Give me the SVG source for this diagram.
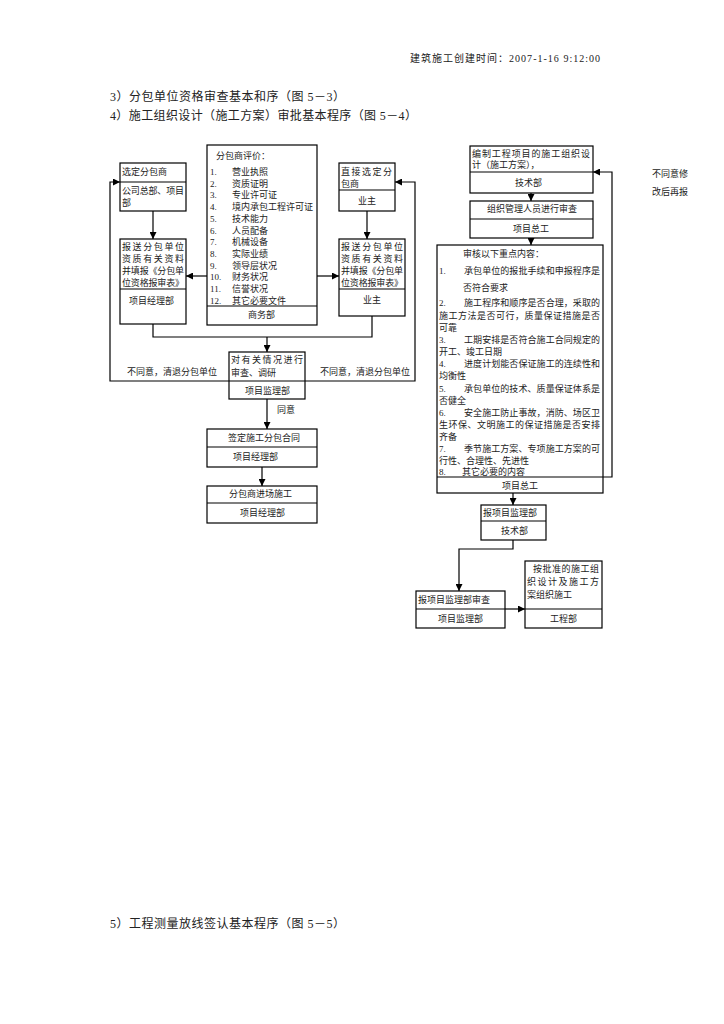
<svg xmlns="http://www.w3.org/2000/svg" width="724" height="1024" viewBox="0 0 724 1024">
<defs>
<marker id="ah" viewBox="0 0 10 10" refX="10" refY="5" markerWidth="7" markerHeight="7" orient="auto" markerUnits="userSpaceOnUse"><path d="M0,0 L10,5 L0,10 z" fill="#000"/></marker>
</defs>
<style>
text{font-family:"Liberation Serif","Noto Sans CJK SC",serif;font-size:9px;fill:#222}
.t{font-size:12px}
.h{font-size:10px}
.b{fill:#fff;stroke:#000;stroke-width:1.2}
.d{stroke:#000;stroke-width:1.2;fill:none}
.c{stroke:#000;stroke-width:1.2;fill:none}
.a{marker-end:url(#ah)}
</style>
<rect width="724" height="1024" fill="#fff"/>
<text class="h" x="410" y="62" textLength="190" lengthAdjust="spacing">建筑施工创建时间：2007-1-16 9:12:00</text>
<text class="t" x="110" y="101" textLength="235" lengthAdjust="spacing">3）分包单位资格审查基本和序（图 5－3）</text>
<text class="t" x="110" y="120" textLength="307" lengthAdjust="spacing">4）施工组织设计（施工方案）审批基本程序（图 5－4）</text>
<text class="t" x="110" y="928" textLength="235" lengthAdjust="spacing">5）工程测量放线签认基本程序（图 5－5）</text>

<g id="connectors">
<line class="c a" x1="153" y1="211" x2="153" y2="239"/>
<line class="c a" x1="367" y1="211" x2="367" y2="239"/>
<line class="c a" x1="207" y1="276" x2="186" y2="276"/>
<line class="c a" x1="317" y1="276" x2="339" y2="276"/>
<polyline class="c" points="153,324 153,337 372,337 372,316"/>
<line class="c a" x1="267" y1="337" x2="267" y2="352"/>
<polyline class="c a" points="229,381 110,381 110,182 120,182"/>
<polyline class="c a" points="305,381 415,381 415,182 395,182"/>
<line class="c a" x1="267" y1="399" x2="267" y2="429"/>
<line class="c a" x1="262" y1="467" x2="262" y2="486"/>
<line class="c a" x1="531" y1="193" x2="531" y2="201"/>
<line class="c a" x1="531" y1="238" x2="531" y2="245"/>
<polyline class="c a" points="603,477 612,477 612,172 593,172"/>
<line class="c a" x1="513" y1="493" x2="513" y2="505"/>
<polyline class="c a" points="513,540 513,549 459,549 459,591"/>
<line class="c a" x1="505" y1="609" x2="525" y2="609"/>
<text x="127" y="375">不同意，清退分包单位</text>
<text x="320" y="375">不同意，清退分包单位</text>
<text x="277" y="413">同意</text>
<text x="652" y="177">不同意修</text>
<text x="652" y="195">改后再报</text>
</g>

<g id="n_xuanding">
<rect class="b" x="120" y="163" width="66" height="48"/>
<line class="d" x1="120" y1="182" x2="186" y2="182"/>
<text x="122" y="175">选定分包商</text>
<text x="122" y="194" textLength="62" lengthAdjust="spacing">公司总部、项目</text>
<text x="122" y="206">部</text>
</g>

<g id="n_baosong_left">
<rect class="b" x="120" y="239" width="66" height="85"/>
<line class="d" x1="120" y1="289" x2="186" y2="289"/>
<text x="122" y="250" textLength="62" lengthAdjust="spacing">报送分包单位</text>
<text x="122" y="262" textLength="62" lengthAdjust="spacing">资质有关资料</text>
<text x="122" y="274" textLength="62" lengthAdjust="spacing">并填报《分包单</text>
<text x="122" y="286" textLength="62" lengthAdjust="spacing">位资格报审表》</text>
<text x="129" y="304">项目经理部</text>
</g>

<g id="n_pingjia">
<rect class="b" x="207" y="145" width="110" height="180"/>
<line class="d" x1="207" y1="306" x2="317" y2="306"/>
<text x="216" y="159">分包商评价：</text>
<text x="210" y="175">1.</text><text x="232" y="175">营业执照</text>
<text x="210" y="186.7">2.</text><text x="232" y="186.7">资质证明</text>
<text x="210" y="198.4">3.</text><text x="232" y="198.4">专业许可证</text>
<text x="210" y="210.1">4.</text><text x="232" y="210.1">境内承包工程许可证</text>
<text x="210" y="221.8">5.</text><text x="232" y="221.8">技术能力</text>
<text x="210" y="233.5">6.</text><text x="232" y="233.5">人员配备</text>
<text x="210" y="245.2">7.</text><text x="232" y="245.2">机械设备</text>
<text x="210" y="256.9">8.</text><text x="232" y="256.9">实际业绩</text>
<text x="210" y="268.6">9.</text><text x="232" y="268.6">领导层状况</text>
<text x="210" y="280.3">10.</text><text x="232" y="280.3">财务状况</text>
<text x="210" y="292">11.</text><text x="232" y="292">信誉状况</text>
<text x="210" y="303.7">12.</text><text x="232" y="303.7">其它必要文件</text>
<text x="248" y="318">商务部</text>
</g>

<g id="n_zhijie">
<rect class="b" x="339" y="163" width="56" height="48"/>
<line class="d" x1="339" y1="190" x2="395" y2="190"/>
<text x="341" y="175" textLength="51" lengthAdjust="spacing">直接选定分</text>
<text x="341" y="187">包商</text>
<text x="358" y="204">业主</text>
</g>

<g id="n_baosong_right">
<rect class="b" x="339" y="239" width="66" height="77"/>
<line class="d" x1="339" y1="289" x2="405" y2="289"/>
<text x="341" y="250" textLength="62" lengthAdjust="spacing">报送分包单位</text>
<text x="341" y="262" textLength="62" lengthAdjust="spacing">资质有关资料</text>
<text x="341" y="274" textLength="62" lengthAdjust="spacing">并填报《分包单</text>
<text x="341" y="286" textLength="62" lengthAdjust="spacing">位资格报审表》</text>
<text x="363" y="303">业主</text>
</g>

<g id="n_shencha">
<rect class="b" x="229" y="352" width="76" height="47"/>
<line class="d" x1="229" y1="381" x2="305" y2="381"/>
<text x="231" y="363" textLength="72" lengthAdjust="spacing">对有关情况进行</text>
<text x="231" y="376">审查、调研</text>
<text x="245" y="394">项目监理部</text>
</g>

<g id="n_qianding">
<rect class="b" x="207" y="429" width="110" height="38"/>
<line class="d" x1="207" y1="447" x2="317" y2="447"/>
<text x="228" y="441">签定施工分包合同</text>
<text x="233" y="460">项目经理部</text>
</g>

<g id="n_jinchang">
<rect class="b" x="207" y="486" width="110" height="37"/>
<line class="d" x1="207" y1="503" x2="317" y2="503"/>
<text x="229" y="497">分包商进场施工</text>
<text x="240" y="516">项目经理部</text>
</g>

<g id="n_bianzhi">
<rect class="b" x="470" y="146" width="123" height="47"/>
<line class="d" x1="470" y1="172" x2="593" y2="172"/>
<text x="472" y="157" textLength="118" lengthAdjust="spacing">编制工程项目的施工组织设</text>
<text x="472" y="168">计（施工方案），</text>
<text x="515" y="186">技术部</text>
</g>

<g id="n_zuzhi">
<rect class="b" x="470" y="201" width="123" height="37"/>
<line class="d" x1="470" y1="219" x2="593" y2="219"/>
<text x="487" y="212">组织管理人员进行审查</text>
<text x="513" y="232">项目总工</text>
</g>

<g id="n_shenhe">
<rect class="b" x="437" y="245" width="166" height="248"/>
<line class="d" x1="437" y1="477" x2="603" y2="477"/>
<text x="463" y="257">审核以下重点内容：</text>
<text x="439" y="274">1.</text><text x="464" y="274" textLength="136" lengthAdjust="spacing">承包单位的报批手续和申报程序是</text>
<text x="463" y="291">否符合要求</text>
<text x="439" y="306">2.</text><text x="464" y="306" textLength="136" lengthAdjust="spacing">施工程序和顺序是否合理，采取的</text>
<text x="439" y="318.5" textLength="161" lengthAdjust="spacing">施工方法是否可行，质量保证措施是否</text>
<text x="439" y="330.5">可靠</text>
<text x="439" y="343">3.</text><text x="464" y="343" textLength="136" lengthAdjust="spacing">工期安排是否符合施工合同规定的</text>
<text x="439" y="355">开工、竣工日期</text>
<text x="439" y="367">4.</text><text x="464" y="367" textLength="136" lengthAdjust="spacing">进度计划能否保证施工的连续性和</text>
<text x="439" y="379">均衡性</text>
<text x="439" y="392">5.</text><text x="464" y="392" textLength="136" lengthAdjust="spacing">承包单位的技术、质量保证体系是</text>
<text x="439" y="404">否健全</text>
<text x="439" y="416">6.</text><text x="464" y="416" textLength="136" lengthAdjust="spacing">安全施工防止事故，消防、场区卫</text>
<text x="439" y="428" textLength="161" lengthAdjust="spacing">生环保、文明施工的保证措施是否安排</text>
<text x="439" y="440">齐备</text>
<text x="439" y="452">7.</text><text x="464" y="452" textLength="136" lengthAdjust="spacing">季节施工方案、专项施工方案的可</text>
<text x="439" y="463.5">行性、合理性、先进性</text>
<text x="439" y="475">8.</text><text x="462" y="475">其它必要的内容</text>
<text x="502" y="489">项目总工</text>
</g>

<g id="n_bao_jianli">
<rect class="b" x="481" y="505" width="65" height="35"/>
<line class="d" x1="481" y1="521" x2="546" y2="521"/>
<text x="483" y="516">报项目监理部</text>
<text x="501" y="534">技术部</text>
</g>

<g id="n_jianli_shencha">
<rect class="b" x="416" y="591" width="89" height="37"/>
<line class="d" x1="416" y1="609" x2="505" y2="609"/>
<text x="418" y="603">报项目监理部审查</text>
<text x="438" y="622">项目监理部</text>
</g>

<g id="n_shigong">
<rect class="b" x="525" y="561" width="77" height="67"/>
<line class="d" x1="525" y1="609" x2="602" y2="609"/>
<text x="533" y="572" textLength="66" lengthAdjust="spacing">按批准的施工组</text>
<text x="527" y="585" textLength="72" lengthAdjust="spacing">织设计及施工方</text>
<text x="527" y="598">案组织施工</text>
<text x="550" y="622">工程部</text>
</g>
</svg>
